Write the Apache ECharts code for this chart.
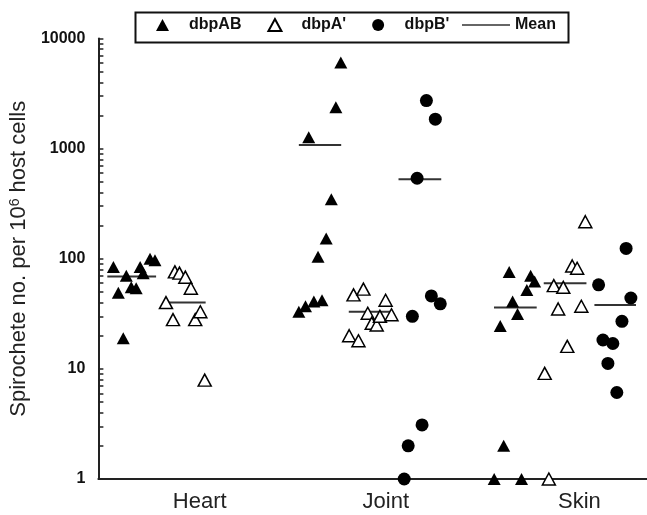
<!DOCTYPE html>
<html>
<head>
<meta charset="utf-8">
<title>spirochete</title>
<script src="https://cdn.jsdelivr.net/npm/echarts@6/dist/echarts.min.js"></script>
<style>
  *{margin:0;padding:0;}
  body{background:#fff;}
  #main{width:647px;height:515px;}
</style>
</head>
<body>
<div id="main"></div>
<script>
// tissues on the x axis and where their labels sit
var tissues = ['Heart', 'Joint', 'Skin'];
var tissuePos = [1, 1.98, 3];
var yLabelValues = [1, 10, 100, 1000, 10000];
var yTickValues = [1,2,3,4,5,6,7,8,9,10,20,30,40,50,60,70,80,90,100,200,300,400,500,600,700,800,900,
                   1000,2000,3000,4000,5000,6000,7000,8000,9000,10000];

// dbpAB (filled triangles)
var heartAbX = [0.545, 0.571, 0.597, 0.613, 0.639, 0.665, 0.686, 0.702, 0.738, 0.764];
var heartAbY = [84, 49, 19, 70, 55, 54, 84, 74, 100, 97];
var jointAbX = [1.743, 1.717, 1.574, 1.693, 1.666, 1.623, 1.644, 1.601, 1.557, 1.522];
var jointAbY = [6040, 2380, 1270, 347, 153, 104, 42, 41, 37, 33];
var skinAbX = [2.630, 2.743, 2.764, 2.723, 2.648, 2.674, 2.583, 2.601, 2.551, 2.695];
var skinAbY = [76, 70, 62, 52, 41, 31.5, 24.5, 2.0, 1, 1];

// dbpA' (open triangles)
var heartAX = [0.822, 0.859, 0.869, 0.893, 0.924, 0.953, 0.976, 1.003, 1.026];
var heartAY = [40, 28, 76, 74, 68, 54, 28, 33, 7.9];
var jointAX = [1.810, 1.862, 1.787, 1.836, 1.885, 1.906, 1.932, 1.949, 1.979, 2.010];
var jointAY = [47, 53, 20, 18, 32, 26, 25, 30, 42, 31];
var skinAX = [3.031, 2.962, 2.988, 2.865, 2.915, 2.888, 3.010, 2.936, 2.817, 2.839];
var skinAY = [217, 86, 82, 57, 55, 35, 37, 16, 9.1, 1];

// dbpB' (filled circles)
var jointBX = [2.194, 2.241, 2.145, 2.220, 2.267, 2.120, 2.171, 2.098, 2.077];
var jointBY = [2730, 1850, 538, 46, 39, 30, 3.1, 2.0, 1];
var skinBX = [3.246, 3.101, 3.271, 3.224, 3.124, 3.176, 3.150, 3.197];
var skinBY = [124, 58, 44, 27, 18.3, 17, 11.2, 6.1];

// mean bars: heart AB, heart A', joint AB, joint A', joint B', skin AB, skin A', skin B'
var meanValues = [69, 40, 1080, 33, 527, 36, 60, 38];
var meanFrom = [0.513, 0.838, 1.522, 1.785, 2.047, 2.550, 2.812, 3.079];
var meanTo = [0.770, 1.031, 1.745, 2.010, 2.272, 2.775, 3.037, 3.298];

function pts(xs, ys) {
    var out = [];
    for (var i = 0; i < xs.length; i++) out.push([xs[i], ys[i]]);
    return out;
}

var font = '"Liberation Sans", Arial, sans-serif';
var legendText = {fontFamily: font, fontSize: 16, fontWeight: 'bold', color: '#111'};

var series = [];
series.push({
    name: 'dbpAB', type: 'scatter', symbol: 'triangle', symbolSize: [13, 12], clip: false, z: 3,
    itemStyle: {color: '#000', opacity: 1},
    data: pts(heartAbX, heartAbY).concat(pts(jointAbX, jointAbY), pts(skinAbX, skinAbY))
});
series.push({
    name: "dbpA'", type: 'scatter', symbol: 'triangle', symbolSize: [13, 12], clip: false, z: 3,
    itemStyle: {color: '#fff', borderColor: '#000', borderWidth: 1.5, opacity: 1},
    data: pts(heartAX, heartAY).concat(pts(jointAX, jointAY), pts(skinAX, skinAY))
});
series.push({
    name: "dbpB'", type: 'scatter', symbol: 'circle', symbolSize: 13, clip: false, z: 3,
    itemStyle: {color: '#000', opacity: 1},
    data: pts(jointBX, jointBY).concat(pts(skinBX, skinBY))
});
for (var m = 0; m < meanValues.length; m++) {
    series.push({
        name: 'Mean', type: 'line', symbol: 'none', z: 2, silent: true,
        itemStyle: {color: '#333'},
        lineStyle: {color: '#333', width: 2},
        data: [[meanFrom[m], meanValues[m]], [meanTo[m], meanValues[m]]]
    });
}

var myChart = echarts.init(document.getElementById('main'));
var option = {
    animation: false,
    textStyle: {fontFamily: font},
    grid: {left: 95, right: 0, top: 38.5, bottom: 36, containLabel: false},
    graphic: [{
        type: 'rect', left: 133, top: 10, z: 10, silent: true,
        shape: {width: 433, height: 30},
        style: {fill: null, stroke: '#111', lineWidth: 2}
    }],
    legend: [{
        left: 156, top: 17, padding: 0,
        itemWidth: 13, itemHeight: 12, itemGap: 26,
        selectedMode: false,
        textStyle: Object.assign({padding: [0, 0, 0, 15]}, legendText),
        data: [
            {name: 'dbpAB', icon: 'triangle'},
            {name: "dbpA'", icon: 'triangle'},
            {name: "dbpB'", icon: 'circle'}
        ]
    }, {
        left: 462, top: 17, padding: 0,
        itemWidth: 48, itemHeight: 12,
        selectedMode: false,
        textStyle: legendText,
        data: [{name: 'Mean', icon: 'path://M0,0H48V1.6H0Z'}]
    }],
    xAxis: {
        type: 'value', min: 0.466, max: 3.356,
        axisLine: {onZero: false, lineStyle: {color: '#222', width: 2}},
        axisTick: {show: false},
        splitLine: {show: false},
        axisLabel: {
            customValues: tissuePos,
            fontSize: 22, color: '#222', margin: 12, fontFamily: font,
            formatter: function (v) { return tissues[Math.round(v) - 1]; }
        }
    },
    yAxis: {
        type: 'log', logBase: 10, min: 1, max: 10000,
        name: 'Spirochete no. per 10{sup|6} host cells',
        nameLocation: 'middle', nameGap: 45,
        nameTextStyle: {
            fontSize: 22, color: '#222', fontFamily: font,
            rich: {sup: {fontSize: 14, verticalAlign: 'top', fontFamily: font, color: '#222'}}
        },
        axisLine: {show: true, lineStyle: {color: '#222', width: 2}},
        axisTick: {show: true, inside: true, length: 5, customValues: yTickValues,
                   lineStyle: {color: '#222', width: 1.5}},
        splitLine: {show: false},
        minorTick: {show: false},
        axisLabel: {
            customValues: yLabelValues,
            fontSize: 16, fontWeight: 'bold', color: '#111', margin: 13, fontFamily: font,
            formatter: function (v) { return String(Math.round(v)); }
        }
    },
    series: series
};
myChart.setOption(option);
</script>
</body>
</html>
